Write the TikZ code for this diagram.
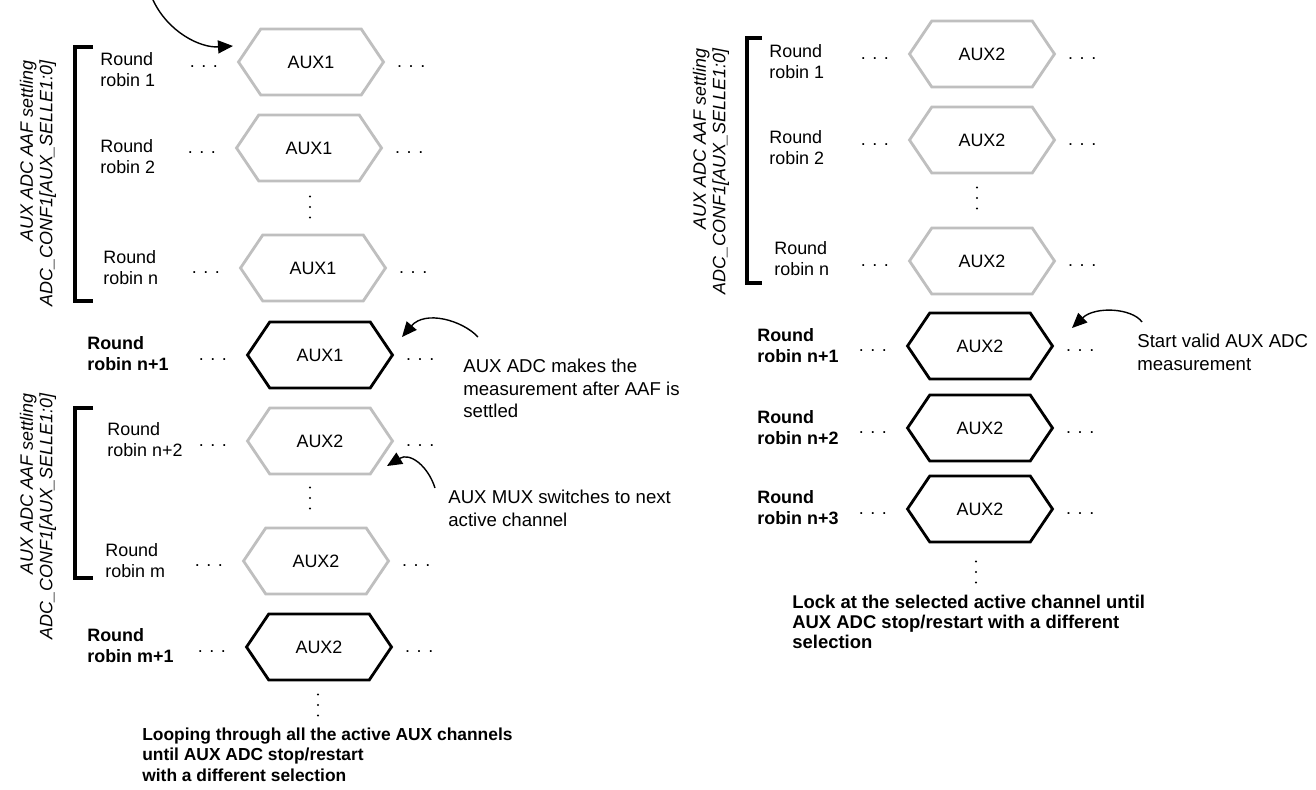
\documentclass[tikz,border=0pt]{standalone}
\usepackage{fontspec}
\setmainfont{Liberation Sans}
\usetikzlibrary{arrows.meta,positioning,shapes.symbols}
\definecolor{auxgray}{RGB}{191,191,191}
\tikzset{
  rrtext/.style={align=left, anchor=north west, inner sep=0pt, font=\fontsize{10.2}{12.3}\selectfont},
  rrbold/.style={rrtext, font=\fontsize{10.2}{12}\selectfont\bfseries},
  auxhex/.style={signal, signal to=west and east, signal pointer angle=112, line width=1.6pt, minimum width=2.9cm, minimum height=1.32cm, inner sep=0pt, font=\fontsize{10.2}{12}\selectfont},
  idlehex/.style={auxhex, draw=auxgray},
  meashex/.style={auxhex, draw=black},
  hdots/.style={inner sep=0pt, font=\fontsize{10.2}{12}\selectfont},
  settlebar/.style={line width=2.2pt},
  settletext/.style={rotate=90, align=right, anchor=east, inner sep=0pt, font=\fontsize{10.2}{11}\selectfont\itshape},
  notetext/.style={align=left, anchor=north west, inner sep=0pt, font=\fontsize{10.6}{12.8}\selectfont},
  looptext/.style={notetext, font=\fontsize{9.9}{11.4}\selectfont\bfseries},
  locktext/.style={notetext, font=\fontsize{10.5}{11.4}\selectfont\bfseries},
  callout/.style={-{Triangle[length=3mm,width=2.6mm]}, line width=0.8pt}
}
\begin{document}
\begin{tikzpicture}[x=0.02cm,y=-0.02cm]
\useasboundingbox (0,0) rectangle (1316,790);
% hexagons with dots on both sides
\foreach \n/\x/\y/\kind/\aux in {l1/311/62/idlehex/AUX1, l2/309/148/idlehex/AUX1, l3/313/268/idlehex/AUX1,
    l4/320/355/meashex/AUX1, l5/320/441/idlehex/AUX2, l6/316/561/idlehex/AUX2, l7/319/647/meashex/AUX2,
    r1/982/54/idlehex/AUX2, r2/982/140/idlehex/AUX2, r3/982/261/idlehex/AUX2,
    r4/980/346/meashex/AUX2, r5/980/428/meashex/AUX2, r6/980/509/meashex/AUX2}
{
  \node[\kind] (\n) at (\x,\y) {\aux};
  \node[hdots, left=3.7mm of \n.west, yshift=-1mm] (\n-a) {. . .};
  \node[hdots, right=2.3mm of \n.east, yshift=-1mm] (\n-b) {. . .};
}
% round robin labels
\node[rrtext] (t1) at (100,52) {Round\\robin 1};
\node[rrtext] (t2) at (100,139) {Round\\robin 2};
\node[rrtext] (t3) at (103,250) {Round\\robin n};
\node[rrbold] (t4) at (87,336) {Round\\robin n+1};
\node[rrtext] (t5) at (107,422) {Round\\robin n+2};
\node[rrtext] (t6) at (105,543) {Round\\robin m};
\node[rrbold] (t7) at (87,628) {Round\\robin m+1};
\node[rrtext] (s1) at (769,44) {Round\\robin 1};
\node[rrtext] (s2) at (769,130) {Round\\robin 2};
\node[rrtext] (s3) at (774,241) {Round\\robin n};
\node[rrbold] (s4) at (757,328) {Round\\robin n+1};
\node[rrbold] (s5) at (757,410) {Round\\robin n+2};
\node[rrbold] (s6) at (757,490) {Round\\robin n+3};
% vertical dots
\foreach \x/\y in {310/207, 310/498, 318/705, 977/198, 976/572}
  \foreach \d in {-10.5,0,10.5}
    \fill (\x,\y+\d) circle (1.1);
% settling brackets
\draw[settlebar] (93,47) -- (75,47) -- (75,301) -- (93,301);
\draw[settlebar] (93,408) -- (75,408) -- (75,578) -- (93,578);
\draw[settlebar] (762,38) -- (747,38) -- (747,283) -- (762,283);
\node[settletext] (set1) at (38,60) {AUX ADC AAF settling\\ADC\_CONF1[AUX\_SELLE1:0]};
\node[settletext] (set2) at (38,393) {AUX ADC AAF settling\\ADC\_CONF1[AUX\_SELLE1:0]};
\node[settletext] (set3) at (711,48) {AUX ADC AAF settling\\ADC\_CONF1[AUX\_SELLE1:0]};
% notes
\node[notetext] (n1) at (463,359) {AUX ADC makes the\\measurement after AAF is\\settled};
\node[notetext] (n2) at (448,490) {AUX MUX switches to next\\active channel};
\node[notetext] (n3) at (1137,334) {Start valid AUX ADC\\measurement};
\node[looptext] (loop) at (142,728) {Looping through all the active AUX channels\\until AUX ADC stop/restart\\with a different selection};
\node[locktext] (lock) at (792,595) {Lock at the selected active channel until\\AUX ADC stop/restart with a different\\selection};
% callout arrows
\coordinate (c1s) at (153,0);
\coordinate (c1e) at (233,46);
\coordinate (c2s) at (478,337);
\coordinate (c2e) at (402,337);
\coordinate (c3s) at (435,488);
\coordinate (c3e) at (387,466);
\coordinate (c4s) at (1142,322);
\coordinate (c4e) at (1072,328);
\draw[callout] (c1s) .. controls (168,32) and (200,48) .. (c1e);
\draw[callout] (c2s) .. controls (462,320) and (425,310) .. (c2e);
\draw[callout] (c3s) .. controls (428,466) and (410,452) .. (c3e);
\draw[callout] (c4s) .. controls (1132,308) and (1095,306) .. (c4e);
\end{tikzpicture}
\end{document}
